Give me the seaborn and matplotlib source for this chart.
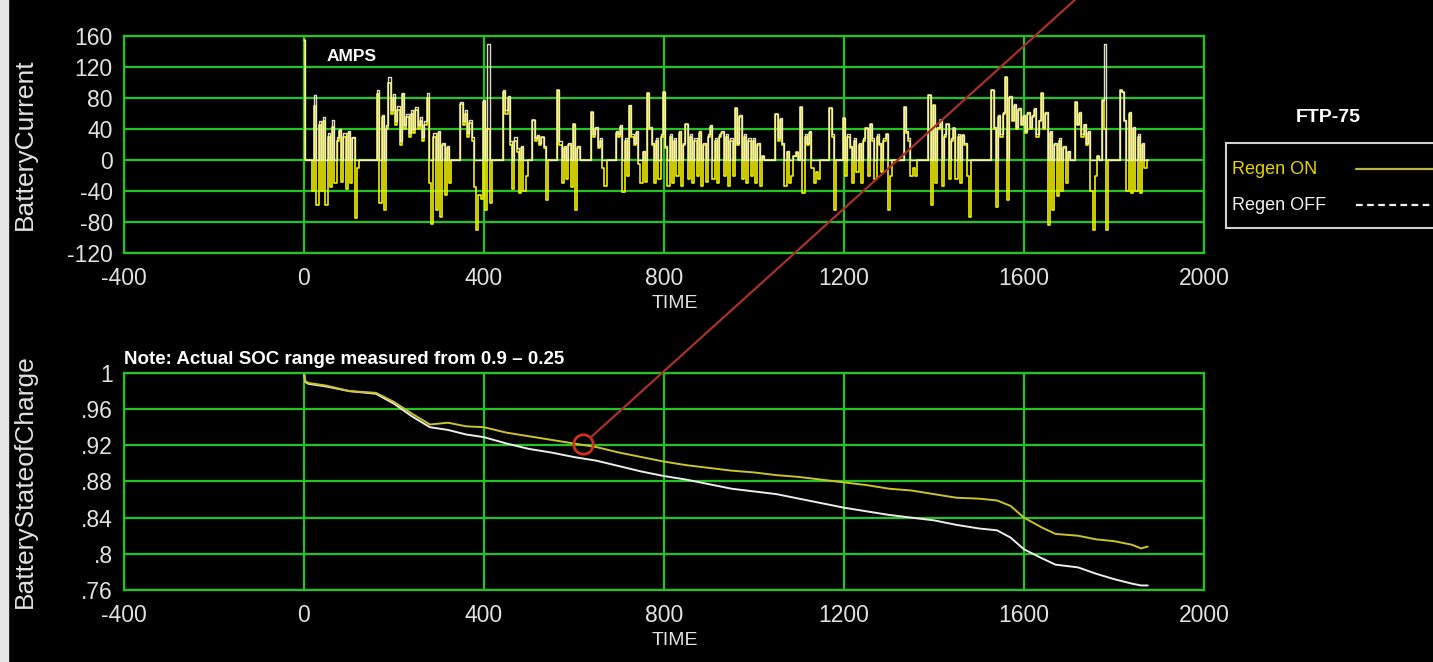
import numpy as np
import pandas as pd
import matplotlib
matplotlib.use("Agg")
import matplotlib.pyplot as plt
import seaborn as sns
from matplotlib.lines import Line2D
from matplotlib.patches import ConnectionPatch, Rectangle

# -------------------------------
# Data
# -------------------------------
sample_step = 5  # seconds between current samples

# Battery current (A), Regen ON
current_regen_on = [
    155, 0, 0, 0, -40, 70, -58, 45, -40, 50, -58, 30, -35, 42, -30, 25, 38, -28, 30, -38,
    35, -30, 28, -75, -10, 0, 0, 0, 0, 0, 0, 0, 0, 85, -56, 55, -65, 40, 100, 60,
    80, 45, 65, 20, 85, 40, 55, 30, 60, 35, 65, 40, 50, 25, 45, 80, -30, -82, 30, -65,
    35, -73, 20, -45, 15, -30, 0, 0, 0, 0, 72, 45, 60, 30, 48, 25, -35, -90, -45, -50,
    75, -65, 40, -55, 0, 0, 0, 0, 0, 88, 60, 80, 20, -38, 25, 10, -42, 15, -40, -20,
    0, 0, 52, 25, 30, 20, 30, 15, -52, 0, 0, 0, 0, 90, 20, -30, 15, -25, 20, -35,
    47, -65, 15, 0, 0, 0, 0, 0, 62, 30, 40, 15, 25, -10, -34, 0, 0, 0, 0, 35,
    30, 43, -41, 25, -20, 70, 30, 20, 35, -5, -30, 10, -28, 86, 40, 20, -30, 25, -25, 30,
    88, 15, -34, 30, -30, 25, -20, 35, -34, 20, 47, -25, 30, -30, 25, -20, 35, -34, 20, -28,
    30, 43, -25, 25, -30, 30, 35, -21, 30, -34, 25, -20, 67, 20, 56, -25, 30, -30, 25, -20,
    25, -30, 20, -34, 5, 0, 0, 0, 0, 0, 60, 25, 52, 20, -34, 10, -30, -20, 5, 10,
    0, 69, -43, 30, 20, 35, -10, -30, -15, -25, 0, 0, 0, 0, 67, 30, -65, 0, 0, 0,
    54, -20, 30, 15, -30, 25, -15, 20, -30, 25, 41, -20, 47, 25, -25, 30, 20, -15, 25, 34,
    -65, -20, 0, 0, 0, 0, 0, 69, 35, 25, -21, -10, -20, 0, 0, 0, 0, 0, 84, -58,
    71, -30, 40, 52, -34, 30, 47, -25, 25, 41, -25, 30, -30, 32, 20, -20, -73, 0, 0, 0,
    0, 0, 0, 0, 0, 0, 90, 40, -60, 55, 30, 60, 107, -52, 80, 50, 70, 40, 65, 45,
    55, 35, 60, 40, 55, 65, 30, 50, 86, 40, 60, -84, 35, -65, 20, -47, 25, -40, 15, -30,
    10, 0, 0, 75, 45, 60, 30, 45, 20, 35, -40, -90, -20, 5, 0, 77, 40, -90, 0, 0,
    0, 0, 0, 90, 88, 50, -40, 60, -43, 40, -40, 30, -43, 20, -10, 0,
]

# Battery current (A), Regen OFF
current_regen_off = [
    155, 0, 0, 0, 0, 84, 0, 50, 0, 55, 0, 35, 0, 52, 0, 30, 40, 0, 35, 0,
    38, 0, 30, 0, 0, 0, 0, 0, 0, 0, 0, 0, 0, 90, 0, 58, 0, 45, 107, 65,
    85, 50, 70, 25, 86, 45, 60, 35, 65, 40, 69, 45, 55, 30, 50, 86, 0, 0, 35, 0,
    38, 0, 22, 0, 18, 0, 0, 0, 0, 0, 75, 50, 65, 35, 52, 30, 0, 0, 0, 0,
    78, 0, 150, 0, 0, 0, 0, 0, 0, 90, 65, 82, 25, 0, 30, 15, 0, 18, 0, 0,
    0, 0, 52, 28, 32, 22, 30, 18, 0, 0, 0, 0, 0, 90, 25, 0, 18, 0, 22, 0,
    47, 0, 18, 0, 0, 0, 0, 0, 62, 33, 42, 18, 28, 0, 0, 0, 0, 0, 0, 38,
    33, 45, 0, 28, 0, 71, 33, 22, 38, 0, 0, 12, 0, 86, 42, 22, 0, 28, 0, 33,
    88, 18, 0, 33, 0, 28, 0, 38, 0, 22, 47, 0, 33, 0, 28, 0, 38, 0, 22, 0,
    33, 45, 0, 28, 0, 33, 38, 0, 33, 0, 28, 0, 67, 22, 58, 0, 33, 0, 28, 0,
    28, 0, 22, 0, 5, 0, 0, 0, 0, 0, 60, 28, 54, 22, 0, 12, 0, 0, 5, 10,
    0, 69, 0, 33, 22, 38, 0, 0, 0, 0, 0, 0, 0, 0, 67, 33, 0, 0, 0, 0,
    54, 0, 33, 18, 0, 28, 0, 22, 0, 28, 41, 0, 47, 28, 0, 33, 22, 0, 28, 34,
    0, 0, 0, 0, 0, 0, 0, 69, 38, 28, 0, 0, 0, 0, 0, 0, 0, 0, 84, 0,
    71, 0, 42, 52, 0, 33, 47, 0, 28, 41, 0, 33, 0, 32, 22, 0, 0, 0, 0, 0,
    0, 0, 0, 0, 0, 0, 90, 42, 0, 58, 33, 62, 107, 0, 82, 52, 72, 42, 67, 47,
    58, 38, 62, 42, 58, 67, 33, 52, 86, 42, 62, 0, 38, 0, 22, 0, 28, 0, 18, 0,
    12, 0, 0, 75, 47, 62, 33, 47, 22, 38, 0, 0, 0, 5, 0, 77, 150, 0, 0, 0,
    0, 0, 0, 90, 88, 52, 0, 62, 0, 42, 0, 33, 0, 22, 0, 0,
]

# Battery state of charge
soc_time = [0, 3, 10, 50, 100, 160, 200, 240, 280, 320,
            360, 400, 450, 500, 550, 600, 650, 700, 750, 800,
            850, 900, 950, 1000, 1050, 1100, 1150, 1200, 1250, 1300,
            1350, 1400, 1450, 1500, 1540, 1570, 1600, 1640, 1670, 1720,
            1760, 1800, 1840, 1860, 1875]
soc_regen_on = [1.0, 0.991, 0.989, 0.986, 0.980, 0.978, 0.968, 0.955, 0.943, 0.945,
                0.941, 0.940, 0.934, 0.930, 0.926, 0.922, 0.918, 0.912, 0.907, 0.902,
                0.898, 0.895, 0.892, 0.890, 0.887, 0.885, 0.882, 0.879, 0.876, 0.872,
                0.870, 0.866, 0.862, 0.861, 0.859, 0.853, 0.840, 0.829, 0.822, 0.820,
                0.816, 0.814, 0.810, 0.806, 0.808]
soc_regen_off = [1.0, 0.990, 0.988, 0.985, 0.980, 0.977, 0.966, 0.952, 0.940, 0.937,
                 0.932, 0.929, 0.922, 0.916, 0.912, 0.907, 0.903, 0.897, 0.891, 0.886,
                 0.882, 0.877, 0.872, 0.869, 0.866, 0.861, 0.856, 0.851, 0.847, 0.843,
                 0.840, 0.837, 0.832, 0.828, 0.826, 0.818, 0.805, 0.795, 0.788, 0.785,
                 0.778, 0.772, 0.767, 0.765, 0.765]

# highlighted point on the SOC curve
callout_time = 620
callout_soc = 0.921

x_ticks = [-400, 0, 400, 800, 1200, 1600, 2000]
current_ticks = [-120, -80, -40, 0, 40, 80, 120, 160]
soc_ticks = [0.76, 0.80, 0.84, 0.88, 0.92, 0.96, 1.0]
soc_tick_labels = [".76", ".8", ".84", ".88", ".92", ".96", "1"]
series_labels = ["Regen ON", "Regen OFF"]

# -------------------------------
# Style
# -------------------------------
sns.set_style("dark")
plt.rcParams["font.family"] = ["Liberation Sans", "DejaVu Sans"]
plt.rcParams["axes.unicode_minus"] = False

W, H = 1433, 662
grid_green = "#22c322"
tick_color = "#e2e2e2"
yellow = "#f2f000"
cream = "#f6f2d8"
soc_yellow = "#cdc22a"
soc_white = "#ececec"
legend_on = "#bdb24c"
legend_off = "#f0f0f0"

current_df = pd.DataFrame({
    "time": np.arange(len(current_regen_on)) * sample_step,
    "on": current_regen_on,
    "off": current_regen_off,
})
soc_df = pd.DataFrame({"time": soc_time, "on": soc_regen_on, "off": soc_regen_off})

fig = plt.figure(figsize=(W / 100, H / 100), dpi=100, facecolor="black")
ax1 = fig.add_axes([0.0865, 0.6178, 0.7537, 0.3278])
ax2 = fig.add_axes([0.0865, 0.1088, 0.7537, 0.3278])

# light strip on the left edge of the screenshot
fig.add_artist(Rectangle((0, 0), 8 / W, 1, transform=fig.transFigure,
                         color="#e6e6e6", zorder=0))


def style_axes(ax, yticks, ylabel):
    ax.set_facecolor("black")
    ax.set_xlim(-400, 2000)
    ax.set_xticks(x_ticks)
    ax.set_yticks(yticks)
    ax.set_ylim(yticks[0], yticks[-1])
    ax.grid(True, color=grid_green, lw=1.6)
    ax.set_axisbelow(True)
    for s in ax.spines.values():
        s.set_color(grid_green)
        s.set_linewidth(1.6)
    ax.tick_params(length=0, colors=tick_color, labelsize=16.5)
    ax.tick_params(axis="x", pad=10)
    ax.tick_params(axis="y", pad=8)
    ax.set_xlabel("TIME", color=tick_color, fontsize=14)
    ax.xaxis.set_label_coords(0.51, -0.195)
    ax.set_ylabel(ylabel, color=tick_color, fontsize=19)
    ax.yaxis.set_label_coords(-0.081, 0.5)


# -------------------------------
# 1. Battery current
# -------------------------------
sns.lineplot(data=current_df, x="time", y="on", ax=ax1, color=yellow, lw=1.2,
             drawstyle="steps-mid", estimator=None, sort=False, legend=False)
sns.lineplot(data=current_df, x="time", y="off", ax=ax1, color=cream, lw=1.0,
             drawstyle="steps-mid", alpha=0.9, estimator=None, sort=False,
             legend=False)
style_axes(ax1, current_ticks, "BatteryCurrent")
ax1.text(105, 134, "AMPS", color="white", fontsize=12.5, fontweight="bold",
         ha="center", va="center")

# -------------------------------
# 2. Battery state of charge
# -------------------------------
sns.lineplot(data=soc_df, x="time", y="off", ax=ax2, color=soc_white, lw=1.4,
             estimator=None, sort=False, legend=False)
sns.lineplot(data=soc_df, x="time", y="on", ax=ax2, color=soc_yellow, lw=1.4,
             estimator=None, sort=False, legend=False)
style_axes(ax2, soc_ticks, "BatteryStateofCharge")
ax2.set_yticklabels(soc_tick_labels)
ax2.text(0.0, 1.025, "Note: Actual SOC range measured from 0.9 \u2013 0.25",
         transform=ax2.transAxes, color="white", fontsize=13.5, fontweight="bold",
         ha="left", va="bottom")

# red callout
ax2.plot([callout_time], [callout_soc], marker="o", ms=14, mfc="none",
         mec="#d2301e", mew=2, zorder=5)
con = ConnectionPatch(xyA=(callout_time, callout_soc), coordsA="data", axesA=ax2,
                      xyB=(0.75, 1.0), coordsB="figure fraction",
                      color="#a8322a", lw=1.6, shrinkA=7, shrinkB=0, zorder=6)
fig.add_artist(con)

# -------------------------------
# Legend (drawn by hand: text left, line on the right, box runs off the edge)
# -------------------------------
fig.add_artist(Rectangle((1226 / W, 1 - 228 / H), 230 / W, 85 / H,
                         transform=fig.transFigure, facecolor="black",
                         edgecolor="#d0d0d0", lw=1.5, zorder=3))
legend_rows = [(170, legend_on, "#e6d400", "-"), (206, legend_off, "#f0f0f0", (0, (3, 2)))]
for label, (ypix, line_c, text_c, ls) in zip(series_labels, legend_rows):
    fig.text(1232 / W, 1 - ypix / H, label, color=text_c, fontsize=13,
             ha="left", va="center", zorder=4)
    fig.add_artist(Line2D([1356 / W, 1.0], [1 - (ypix - 1) / H] * 2,
                          transform=fig.transFigure, color=line_c, lw=1.6,
                          ls=ls, zorder=4))
fig.text(1328 / W, 1 - 118 / H, "FTP-75", color="white", fontsize=14,
         fontweight="bold", ha="center", va="center")

fig.savefig("out.png", dpi=100, facecolor="black")
plt.close()
